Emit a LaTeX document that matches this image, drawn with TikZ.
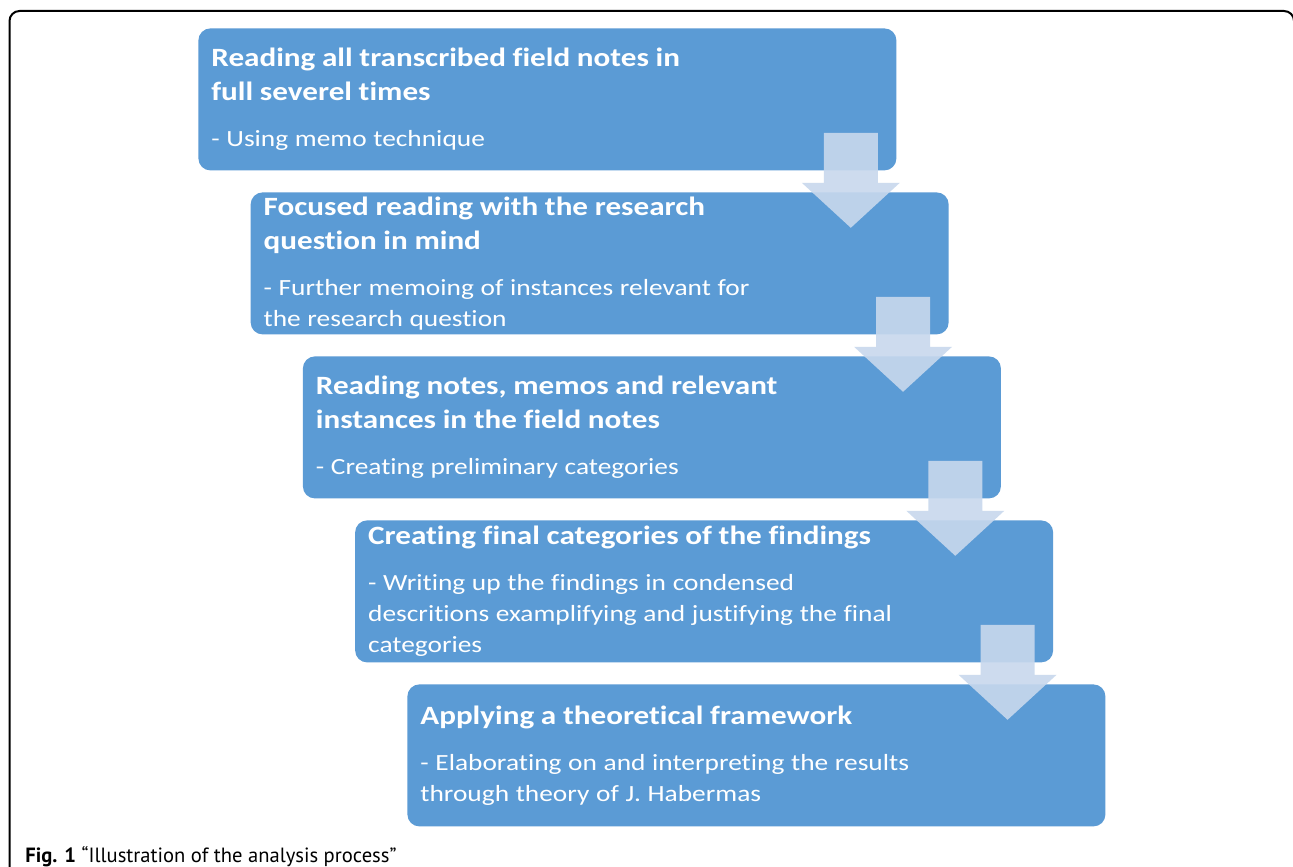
\documentclass[tikz,border=0pt]{standalone}
\usepackage{fontspec}
\setmainfont{Carlito}[FakeStretch=1.18,Ligatures=NoCommon]
\newfontfamily\capfont{PT Sans}
\usetikzlibrary{calc}
\definecolor{boxblue}{RGB}{91,155,213}
\definecolor{arrowblue}{RGB}{200,216,237}
\newcommand\stagehead[1]{{\fontsize{13.2}{17}\selectfont\bfseries #1\par}\vspace{7.5pt}}
\newcommand\stagebody[1]{{\fontsize{11.6}{15.5}\selectfont #1\par}}

\begin{document}
\begin{tikzpicture}[x=0.5pt,y=0.5pt,line join=round,
	stage/.style={anchor=north west,fill=boxblue,rounded corners=6pt,text=white,minimum width=349pt,minimum height=71pt,text width=336pt,inner xsep=6.5pt,inner ysep=0pt,align=left},
	flow/.style={fill=arrowblue,fill opacity=0.9}]
	\def\dx{52.25}
	\def\dy{164}
	\useasboundingbox[fill=white] (0,0) rectangle (1293,-866);
	\begin{scope}
		\clip (0,0) rectangle (1293,-866);
		\draw[line width=1pt,rounded corners=5pt] (9.5,-11) rectangle (1294,-900);
	\end{scope}
	% the five stages
	\node[stage] (box1) at (198,-28) {\stagehead{Reading all transcribed field notes in\\full severel times}\stagebody{- Using memo technique}};
	\node[stage] (box2) at (198+\dx,-28-\dy) {\stagehead{Focused reading with the research\\question in mind}\stagebody{- Further memoing of instances relevant for\\the research question}};
	\node[stage] (box3) at (198+2*\dx,-28-2*\dy) {\stagehead{Reading notes, memos and relevant\\instances in the field notes}\stagebody{- Creating preliminary categories}};
	\node[stage] (box4) at (198+3*\dx,-28-3*\dy) {\stagehead{Creating final categories of the findings}\stagebody{- Writing up the findings in condensed\\descritions examplifying and justifying the final\\categories}};
	\node[stage] (box5) at (198+4*\dx,-28-4*\dy) {\stagehead{Applying a theoretical framework}\stagebody{- Elaborating on and interpreting the results\\through theory of J. Habermas}};
	% block arrows
	\foreach \i in {1,...,4}
		\fill[flow] ($(box\i.south east)+(-73,38)$) -- ++(54,0) -- ++(0,-50) -- ++(22,0) -- ++(-49,-45) -- ++(-49,45) -- ++(22,0) -- cycle;
	\node[anchor=base west,inner sep=0pt] (caption) at (25,-862) {\capfont\fontsize{10.3}{12}\selectfont{\bfseries Fig. 1} “Illustration of the analysis process”};
\end{tikzpicture}
\end{document}
